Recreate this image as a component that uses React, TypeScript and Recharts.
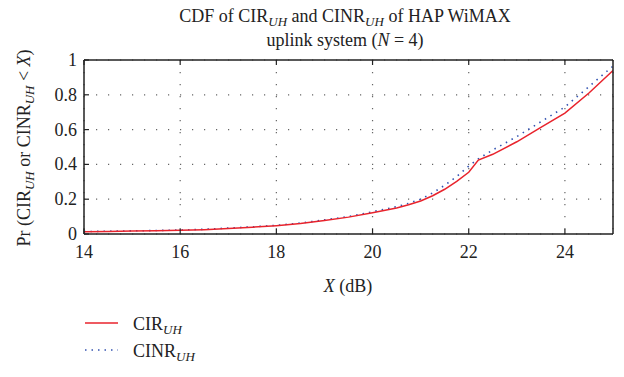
import React from "react";
import { LineChart, Line, XAxis, YAxis, CartesianGrid } from "recharts";

const xValues = [14, 14.5, 15, 15.5, 16, 16.5, 17, 17.5, 18, 18.5, 19, 19.5, 20, 20.5, 20.75, 21, 21.25, 21.5, 21.75, 22, 22.2, 22.5, 23, 23.5, 24, 24.5, 25];
const cirValues = [0.013, 0.015, 0.017, 0.019, 0.021, 0.025, 0.032, 0.039, 0.048, 0.06, 0.078, 0.097, 0.122, 0.15, 0.168, 0.19, 0.22, 0.257, 0.302, 0.355, 0.425, 0.458, 0.53, 0.613, 0.695, 0.81, 0.94];
const cinrValues = [0.014, 0.016, 0.018, 0.02, 0.023, 0.027, 0.034, 0.041, 0.05, 0.063, 0.081, 0.1, 0.128, 0.157, 0.176, 0.2, 0.236, 0.28, 0.33, 0.39, 0.432, 0.483, 0.56, 0.645, 0.73, 0.847, 0.965];
const xTicks = [14, 16, 18, 20, 22, 24];
const yTicks = [0, 0.2, 0.4, 0.6, 0.8, 1];
const yTickLabels = ["0", "0.2", "0.4", "0.6", "0.8", "1"];

const data = xValues.map((x, i) => ({ x, cir: cirValues[i], cinr: cinrValues[i] }));

const FONT = '"Liberation Serif", "Times New Roman", serif';
const FS = 18;
const TICK_LEN = 5;
const INK = "#222";
const RED = "#e8232c";
const BLUE = "#3352b0";

const BottomTick = (props: any) => {
  const { x, y, payload } = props;
  return (
    <g>
      <line x1={x} x2={x} y1={y - 8} y2={y - 8 - TICK_LEN} stroke={INK} strokeWidth={1.2} />
      <text x={x} y={y} dy={16} textAnchor="middle" fontFamily={FONT} fontSize={FS} fill={INK}>
        {payload.value}
      </text>
    </g>
  );
};

const LeftTick = (props: any) => {
  const { x, y, payload } = props;
  const idx = yTicks.indexOf(payload.value);
  return (
    <g>
      <line x1={x + 7} x2={x + 7 + TICK_LEN} y1={y} y2={y} stroke={INK} strokeWidth={1.2} />
      <text x={x} y={y} dy={6} textAnchor="end" fontFamily={FONT} fontSize={FS} fill={INK}>
        {idx >= 0 ? yTickLabels[idx] : payload.value}
      </text>
    </g>
  );
};

const TopTick = (props: any) => {
  const { x, y } = props;
  return <line x1={x} x2={x} y1={y} y2={y + TICK_LEN} stroke={INK} strokeWidth={1.2} />;
};

const RightTick = (props: any) => {
  const { x, y } = props;
  return <line x1={x} x2={x - TICK_LEN} y1={y} y2={y} stroke={INK} strokeWidth={1.2} />;
};

const Sub = ({ children }: { children: string }) => (
  <tspan fontStyle="italic" fontSize={13} dy={4}>
    {children}
  </tspan>
);

const HSub = ({ children }: { children: string }) => (
  <span style={{ fontStyle: "italic", fontSize: 13, position: "relative", top: 4, lineHeight: 0 }}>
    {children}
  </span>
);

export default function App() {
  return (
    <div style={{ position: "relative", width: 616, height: 369 }}>
      <LineChart
        width={616}
        height={369}
        data={data}
        margin={{ top: 51, right: 10, bottom: 113, left: 36 }}
      >
        <CartesianGrid stroke="#666" strokeDasharray="1.2 10.8" strokeWidth={1.2} />
        <XAxis
          dataKey="x"
          type="number"
          domain={[14, 25]}
          ticks={xTicks}
          allowDataOverflow
          height={30}
          tickSize={0}
          tickMargin={8}
          tick={<BottomTick />}
          axisLine={{ stroke: INK, strokeWidth: 1.5 }}
          tickLine={false}
        />
        <XAxis
          xAxisId="top"
          orientation="top"
          dataKey="x"
          type="number"
          domain={[14, 25]}
          ticks={xTicks}
          allowDataOverflow
          height={1}
          tickSize={0}
          tickMargin={0}
          tick={<TopTick />}
          axisLine={{ stroke: INK, strokeWidth: 1.5 }}
          tickLine={false}
        />
        <YAxis
          type="number"
          domain={[0, 1]}
          ticks={yTicks}
          width={40}
          tickSize={0}
          tickMargin={7}
          tick={<LeftTick />}
          axisLine={{ stroke: INK, strokeWidth: 1.5 }}
          tickLine={false}
        />
        <YAxis
          yAxisId="right"
          orientation="right"
          type="number"
          domain={[0, 1]}
          ticks={yTicks}
          width={1}
          tickSize={0}
          tickMargin={0}
          tick={<RightTick />}
          axisLine={{ stroke: INK, strokeWidth: 1.5 }}
          tickLine={false}
        />
        <Line
          dataKey="cinr"
          type="linear"
          stroke={BLUE}
          strokeWidth={1.6}
          strokeDasharray="1.5 5"
          dot={false}
          isAnimationActive={false}
        />
        <Line
          dataKey="cir"
          type="linear"
          stroke={RED}
          strokeWidth={1.5}
          dot={false}
          isAnimationActive={false}
        />
      </LineChart>
      <div
        style={{
          position: "absolute",
          left: 137,
          top: -4,
          width: 400,
          textAlign: "center",
          fontFamily: FONT,
          fontSize: FS,
          lineHeight: "24px",
          color: INK,
          whiteSpace: "nowrap",
        }}
      >
        <div>
          CDF of CIR<HSub>UH</HSub> and CINR<HSub>UH</HSub> of HAP WiMAX
        </div>
        <div>
          uplink system (<i>N</i> = 4)
        </div>
      </div>
      <svg
        width={616}
        height={369}
        style={{ position: "absolute", left: 0, top: 0, pointerEvents: "none" }}
        fontFamily={FONT}
        fontSize={FS}
        fill={INK}
      >
        <text x={340} y={284} textAnchor="middle">
          <tspan fontStyle="italic">X</tspan> (dB)
        </text>
        <text x={22} y={140} textAnchor="middle" transform="rotate(-90 22 140)">
          Pr (CIR<Sub>UH</Sub>
          <tspan dy={-4}> or CINR</tspan>
          <Sub>UH</Sub>
          <tspan dy={-4}> &lt; </tspan>
          <tspan fontStyle="italic">X</tspan>)
        </text>
        <line x1={77} x2={110} y1={315} y2={315} stroke={RED} strokeWidth={1.5} />
        <text x={125} y={322}>
          CIR<Sub>UH</Sub>
        </text>
        <line x1={77} x2={110} y1={342} y2={342} stroke={BLUE} strokeWidth={1.6} strokeDasharray="1.5 5" />
        <text x={125} y={349}>
          CINR<Sub>UH</Sub>
        </text>
      </svg>
    </div>
  );
}
